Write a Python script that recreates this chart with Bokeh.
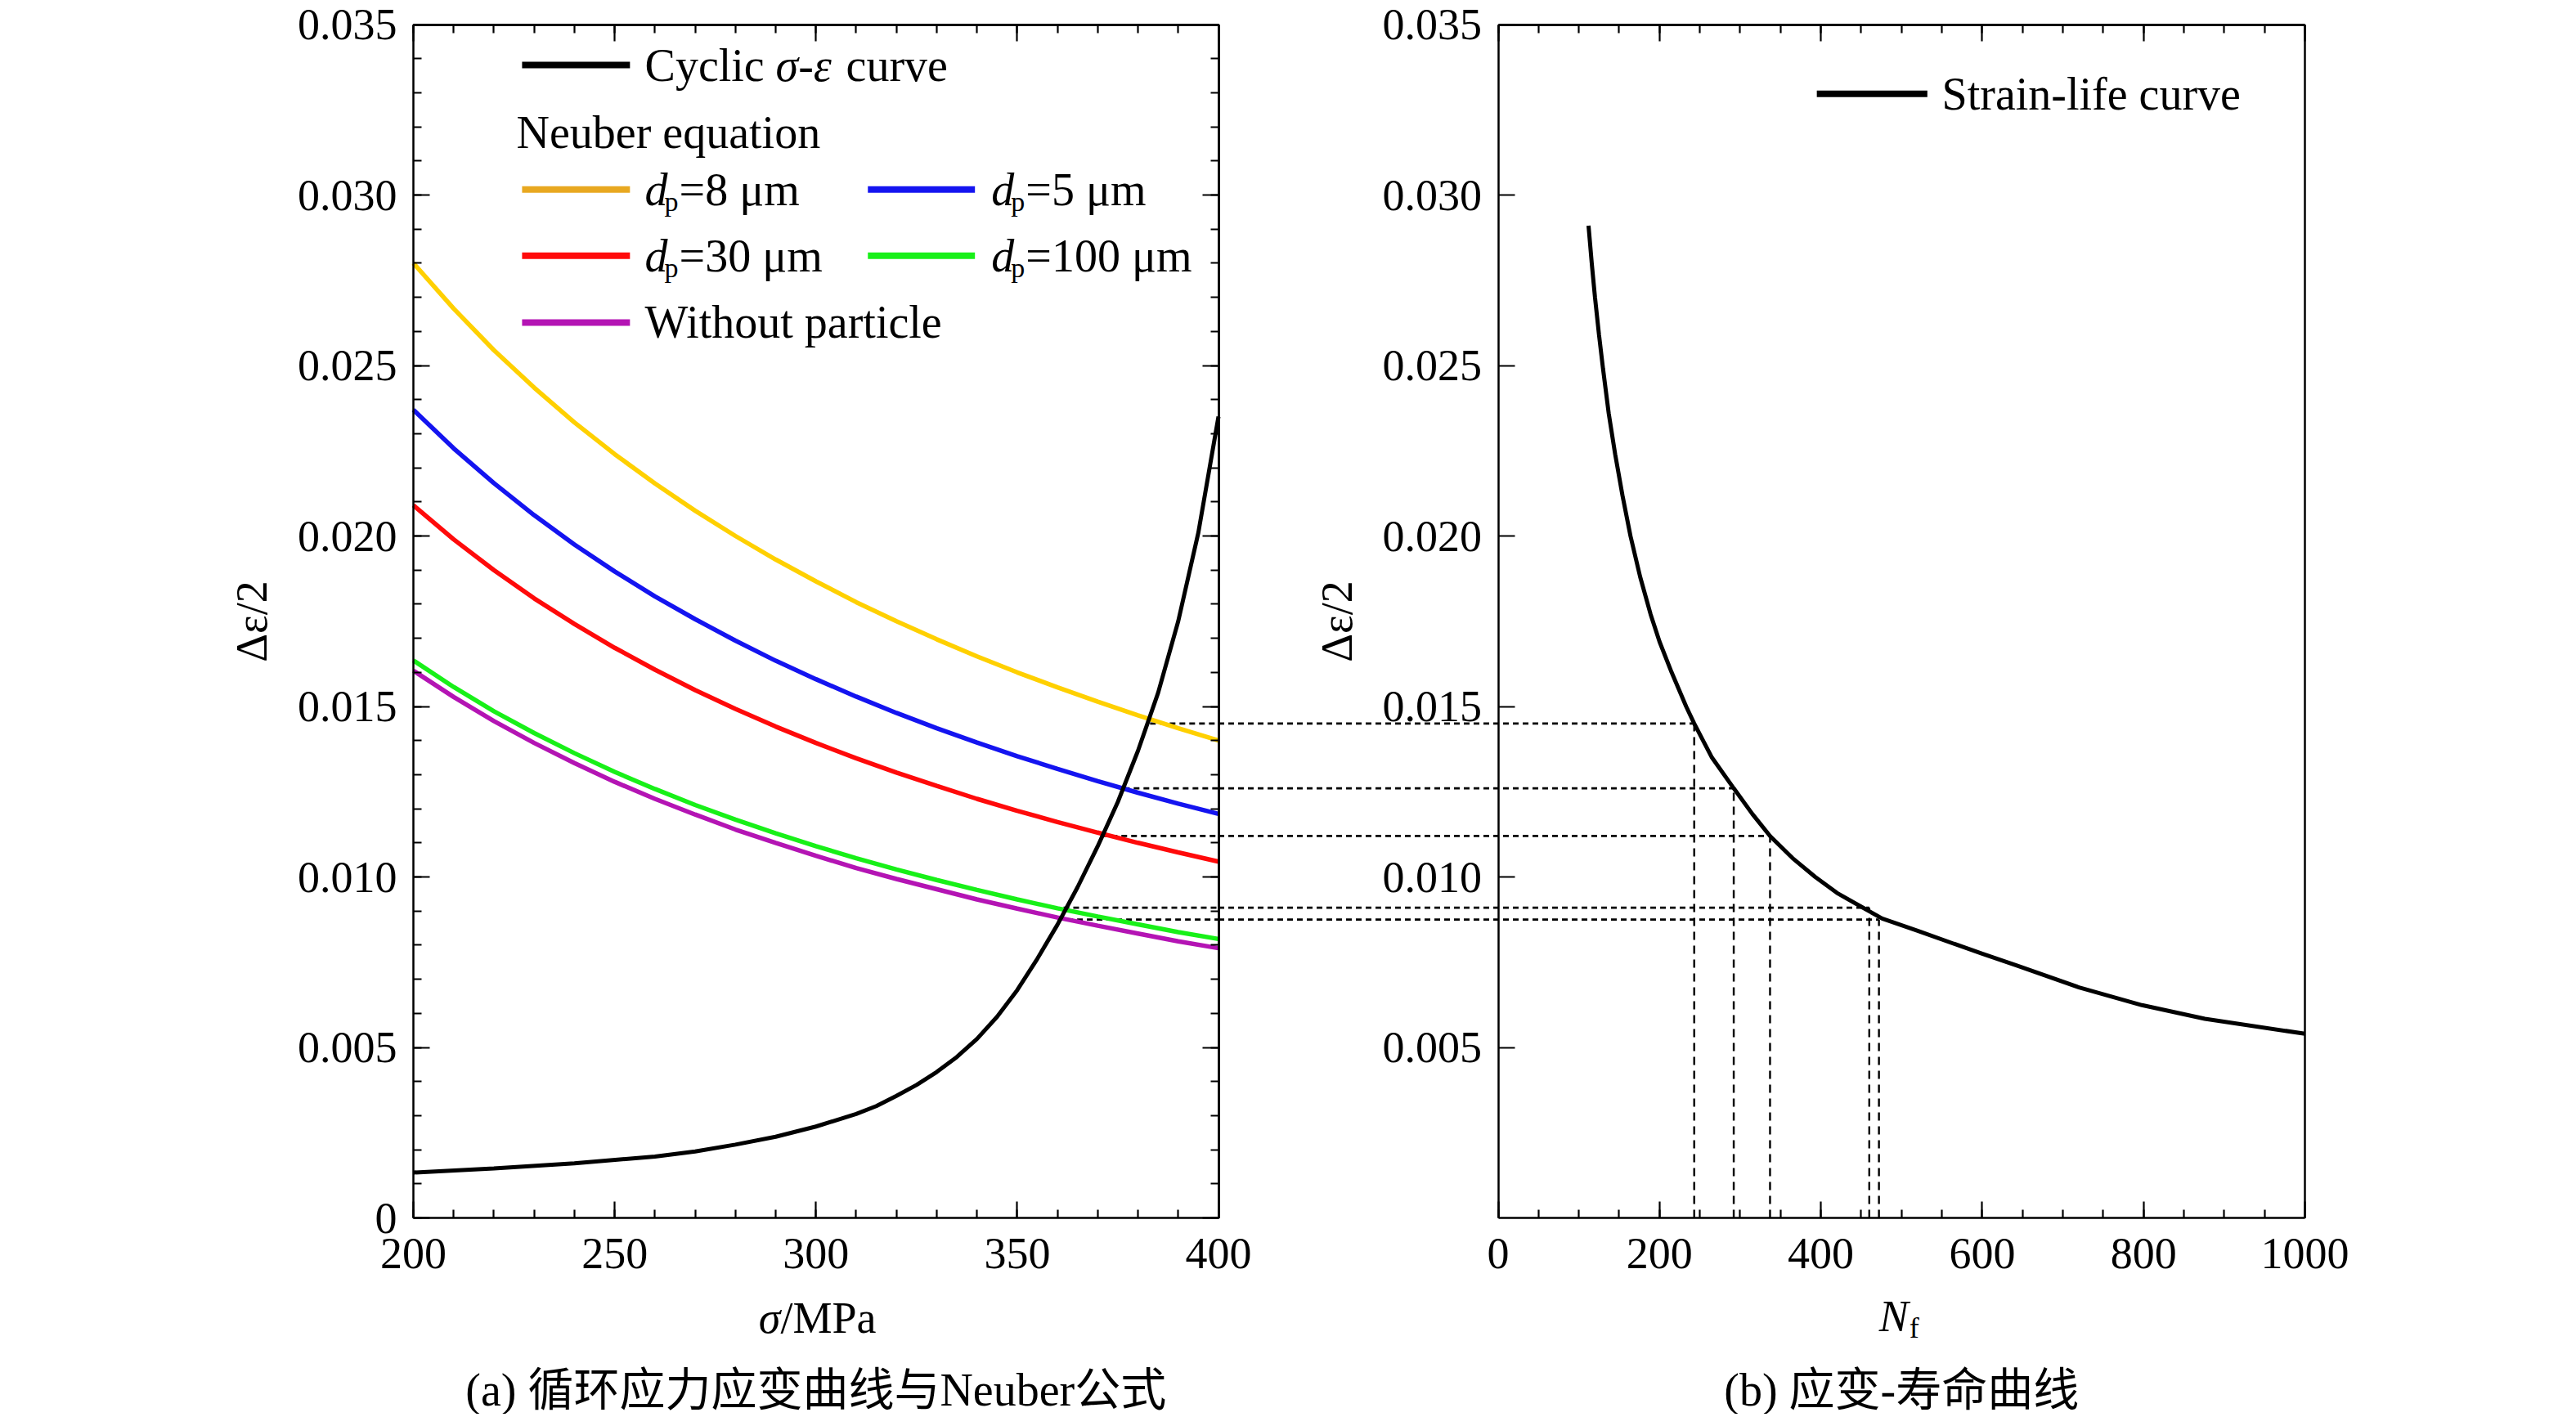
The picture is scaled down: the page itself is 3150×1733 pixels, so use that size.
from bokeh.plotting import figure
from bokeh.models import Range1d, LinearAxis, FixedTicker, Label
from bokeh.embed import file_html
from bokeh.resources import INLINE

# ---- values ----
sigma = [200, 210, 220, 230, 240, 250, 260, 270, 280, 290, 300,
         310, 320, 330, 340, 350, 360, 370, 380, 390, 400]
eps_dp8 = [0.02800, 0.02667, 0.02545, 0.02435, 0.02333, 0.02240, 0.02154, 0.02074, 0.02000, 0.01931, 0.01867,
           0.01806, 0.01750, 0.01697, 0.01647, 0.01600, 0.01556, 0.01514, 0.01474, 0.01436, 0.01400]
eps_dp5 = [0.02370, 0.02257, 0.02155, 0.02061, 0.01975, 0.01896, 0.01823, 0.01756, 0.01693, 0.01634, 0.01580,
           0.01529, 0.01481, 0.01436, 0.01394, 0.01354, 0.01317, 0.01281, 0.01247, 0.01215, 0.01185]
eps_dp30 = [0.02090, 0.01990, 0.01900, 0.01817, 0.01742, 0.01672, 0.01608, 0.01548, 0.01493, 0.01441, 0.01393,
            0.01348, 0.01306, 0.01267, 0.01229, 0.01194, 0.01161, 0.01130, 0.01100, 0.01072, 0.01045]
eps_dp100 = [0.01635, 0.01557, 0.01486, 0.01422, 0.01363, 0.01308, 0.01258, 0.01211, 0.01168, 0.01128, 0.01090,
             0.01055, 0.01022, 0.00991, 0.00962, 0.00934, 0.00908, 0.00884, 0.00861, 0.00838, 0.00818]
eps_none = [0.01605, 0.01528, 0.01457, 0.01393, 0.01334, 0.01279, 0.01229, 0.01183, 0.01139, 0.01100, 0.01062,
            0.01026, 0.00994, 0.00964, 0.00934, 0.00907, 0.00881, 0.00857, 0.00834, 0.00811, 0.00791]

cyc_sigma = [200, 220, 240, 260, 270, 280, 290, 300, 310, 315, 320, 325, 330, 335, 340,
             345, 350, 355, 360, 365, 370, 375, 380, 385, 390, 395, 400]
cyc_eps = [0.00133, 0.00145, 0.00160, 0.00180, 0.00195, 0.00215, 0.00238, 0.00268, 0.00305, 0.00328,
           0.00358, 0.00390, 0.00428, 0.00472, 0.00525, 0.00590, 0.00668, 0.00760, 0.00860, 0.00970,
           0.01090, 0.01220, 0.01370, 0.01540, 0.01750, 0.02010, 0.02350]

life_n = [112, 116, 120, 125, 130, 137, 145, 154, 164, 176, 189, 200, 215, 233, 243, 265,
          292, 315, 337, 365, 393, 420, 452, 476, 520, 565, 600, 643, 720, 798, 876, 1000]
life_eps = [0.0291, 0.0280, 0.0270, 0.0259, 0.0249, 0.0236, 0.0224, 0.0212, 0.0200, 0.0188, 0.0177,
            0.0169, 0.0160, 0.0150, 0.0145, 0.0135, 0.0126, 0.01185, 0.0112, 0.01055, 0.0100, 0.00953,
            0.00910, 0.00878, 0.00842, 0.00804, 0.00775, 0.0074, 0.00676, 0.00624, 0.00584, 0.0054]

# where the cyclic curve meets each Neuber curve, and the matching life
cross_sigma = [383, 376.5, 371, 361.5, 360]
cross_eps = [0.0145, 0.0126, 0.0112, 0.0091, 0.00875]
cross_n = [243, 292, 337, 460, 472]

sigma_ticks = [200, 250, 300, 350, 400]
n_ticks = [0, 200, 400, 600, 800, 1000]
eps_ticks = [0, 0.005, 0.010, 0.015, 0.020, 0.025, 0.030, 0.035]
eps_labels = ["0", "0.005", "0.010", "0.015", "0.020", "0.025", "0.030", "0.035"]

# ---- layout (px) ----
LEFT_PAD = 505    # canvas left -> left border of panel (a)
PANEL_A = 984.5   # width of panel (a)
GAP = 342         # gap between the panels
PANEL_B = 986.5   # width of panel (b)
RIGHT_PAD = 80
TOP_PAD = 29.5    # canvas top -> top border
PLOT_H = 1459.5   # height of both panels
BOTTOM_PAD = 240  # bottom border -> canvas bottom
SERIF = "Liberation Serif"
CJK = "Liberation Serif, Noto Sans CJK SC"

s0, s1 = sigma_ticks[0], sigma_ticks[-1]
n0, n1 = n_ticks[0], n_ticks[-1]
e0, e1 = eps_ticks[0], eps_ticks[-1]
sig_per_px = (s1 - s0) / PANEL_A
n_per_px = (n1 - n0) / PANEL_B
eps_per_px = (e1 - e0) / PLOT_H
frame_w = int(LEFT_PAD + PANEL_A + GAP + PANEL_B + RIGHT_PAD)
frame_h = int(TOP_PAD + PLOT_H + BOTTOM_PAD)
n_edge = n0 - GAP * n_per_px   # N value at the right border of panel (a)


def below(px):
    # data y of a point px pixels under the bottom border
    return e0 - px * eps_per_px


# one frame covers the whole canvas; every axis is pinned with fixed_location
p = figure(frame_width=frame_w, frame_height=frame_h,
           x_range=Range1d(s0 - LEFT_PAD * sig_per_px, s0 + (frame_w - LEFT_PAD) * sig_per_px),
           y_range=Range1d(below(BOTTOM_PAD), e1 + TOP_PAD * eps_per_px),
           x_axis_type=None, y_axis_type=None,
           min_border_left=0, min_border_right=0, min_border_top=0, min_border_bottom=0,
           output_backend="svg", toolbar_location=None, tools="",
           outline_line_color=None, background_fill_color="white", border_fill_color="white")
p.extra_x_ranges = {"N": Range1d(n0 - (LEFT_PAD + PANEL_A + GAP) * n_per_px, n1 + RIGHT_PAD * n_per_px)}


def style(ax, tick_len=20, minor_len=10):
    ax.axis_line_width = 2.5
    ax.axis_line_color = "black"
    ax.major_tick_in = tick_len
    ax.major_tick_out = 0
    ax.minor_tick_in = minor_len
    ax.minor_tick_out = 0
    ax.major_tick_line_width = 2.2
    ax.minor_tick_line_width = 2.2
    ax.major_label_text_font = SERIF
    ax.major_label_text_font_size = "54px"
    ax.major_label_text_color = "black"
    ax.axis_label_text_font = SERIF
    ax.axis_label_text_font_size = "54px"
    ax.axis_label_text_font_style = "normal"
    ax.axis_label_text_color = "black"
    return ax


def mirror(side, loc, bounds, majors, minors, rng="default"):
    # tick marks only (no labels): majors and minors drawn as minor ticks of two axes
    for ticks, length in ((majors, 20), (minors, 10)):
        ax = style(LinearAxis(x_range_name=rng, fixed_location=loc, bounds=bounds,
                              ticker=FixedTicker(ticks=[], minor_ticks=ticks)), minor_len=length)
        p.add_layout(ax, side)


minor_sigma = list(range(s0, s1 + 1, 10))
minor_n = list(range(n0, n1 + 1, 50))
minor_eps = [k / 1000 for k in range(36)]

# panel (a) axes
xa = style(LinearAxis(fixed_location=e0, bounds=(s0, s1),
                      ticker=FixedTicker(ticks=sigma_ticks, minor_ticks=minor_sigma)))
xa.major_label_standoff = 25
p.add_layout(xa, "below")
ya = style(LinearAxis(fixed_location=s0, bounds=(e0, e1),
                      ticker=FixedTicker(ticks=eps_ticks, minor_ticks=minor_eps),
                      major_label_overrides=dict(zip(eps_ticks, eps_labels)), axis_label="Δε/2"))
ya.major_label_standoff = 20
ya.axis_label_standoff = 23
p.add_layout(ya, "left")
mirror("above", e1, (s0, s1), sigma_ticks, minor_sigma)
mirror("right", s1, (e0, e1), eps_ticks, minor_eps)

# panel (b) axes
xb = style(LinearAxis(x_range_name="N", fixed_location=e0, bounds=(n0, n1),
                      ticker=FixedTicker(ticks=n_ticks, minor_ticks=minor_n)))
xb.major_label_standoff = 25
p.add_layout(xb, "below")
yb = style(LinearAxis(x_range_name="N", fixed_location=n0, bounds=(e0, e1),
                      ticker=FixedTicker(ticks=eps_ticks[1:], minor_ticks=[]),
                      major_label_overrides=dict(zip(eps_ticks[1:], eps_labels[1:])), axis_label="Δε/2"))
yb.major_label_standoff = 20
yb.axis_label_standoff = 23
p.add_layout(yb, "left")
mirror("above", e1, (n0, n1), n_ticks, minor_n, rng="N")
p.add_layout(style(LinearAxis(x_range_name="N", fixed_location=n1, bounds=(e0, e1),
                              ticker=FixedTicker(ticks=[], minor_ticks=[]))), "right")

# dashed construction lines
p.segment(x0=cross_sigma, y0=cross_eps, x1=[s1] * len(cross_eps), y1=cross_eps,
          line_color="black", line_width=2.8, line_dash="7 5")
p.segment(x0=[n_edge] * len(cross_eps), y0=cross_eps, x1=cross_n, y1=cross_eps,
          x_range_name="N", line_color="black", line_width=2.8, line_dash="7 5")
p.segment(x0=cross_n, y0=[e0] * len(cross_n), x1=cross_n, y1=cross_eps,
          x_range_name="N", line_color="black", line_width=2.4, line_dash="10 7")

# curves
curves = [
    (eps_dp8, "#FFD000", "#E8A820", "8 μm"),
    (eps_dp5, "#1414F0", "#1414F0", "5 μm"),
    (eps_dp30, "#FF0A0A", "#FF0A0A", "30 μm"),
    (eps_dp100, "#18F018", "#18F018", "100 μm"),
    (eps_none, "#B414B4", "#B414B4", None),
]
for eps, color, _, _ in curves:
    p.line(sigma, eps, line_color=color, line_width=5.5)
p.line(cyc_sigma, cyc_eps, line_color="black", line_width=5)
p.line(life_n, life_eps, x_range_name="N", line_color="black", line_width=5)


def label(x, y, s, size=56, style_="normal", align="left", dx=0, dy=0, rng="default", font=SERIF):
    p.add_layout(Label(x=x, y=y, text=s, x_range_name=rng, text_font=font,
                       text_font_size=f"{size}px", text_font_style=style_,
                       text_align=align, text_baseline="middle",
                       x_offset=dx, y_offset=dy, text_color="black"))


# legend of panel (a)
H0, H1, T0 = 227.0, 253.8, 257.5        # column 1: handle start/end, text start
H0b, H1b, T0b = 312.9, 339.5, 343.6     # column 2
rows = [0.03381, 0.03184, 0.03016, 0.02822, 0.02626]

p.segment(x0=[H0], y0=[rows[0]], x1=[H1], y1=[rows[0]], line_color="black", line_width=8)
label(T0, rows[0], "Cyclic")
label(T0, rows[0], "σ-ε", style_="italic", dx=160)
label(T0, rows[0], "curve", dx=246)
label(225.6, rows[1], "Neuber equation")

slots = [(H0, H1, T0, rows[2]), (H0b, H1b, T0b, rows[2]),
         (H0, H1, T0, rows[3]), (H0b, H1b, T0b, rows[3]),
         (H0, H1, T0, rows[4])]
for (eps, _, hcol, txt), (a, b, t, y) in zip(curves, slots):
    p.segment(x0=[a], y0=[y], x1=[b], y1=[y], line_color=hcol, line_width=8)
    if txt is None:
        label(t, y, "Without particle")
    else:
        label(t, y, "d", style_="italic")
        label(t, y, "p", size=34, dx=24, dy=-15)
        label(t, y, "=" + txt, dx=42)

# legend of panel (b)
p.segment(x0=[395], y0=[0.03297], x1=[532], y1=[0.03297], x_range_name="N",
          line_color="black", line_width=8)
label(550, 0.03297, "Strain-life curve", rng="N")

# axis titles and captions below the frames
label(291.2, below(122), "σ", style_="italic", align="right", size=54)
label(291.2, below(122), "/MPa", size=54)
label(508.6, below(120), "N", style_="italic", align="right", size=54, rng="N")
label(508.6, below(120), "f", size=36, dx=1, dy=-14, rng="N")
label(300, below(210), "(a) 循环应力应变曲线与Neuber公式", align="center", font=CJK)
label(500, below(210), "(b) 应变-寿命曲线", align="center", rng="N", font=CJK)

open("out.html", "w").write(file_html(p, INLINE))
